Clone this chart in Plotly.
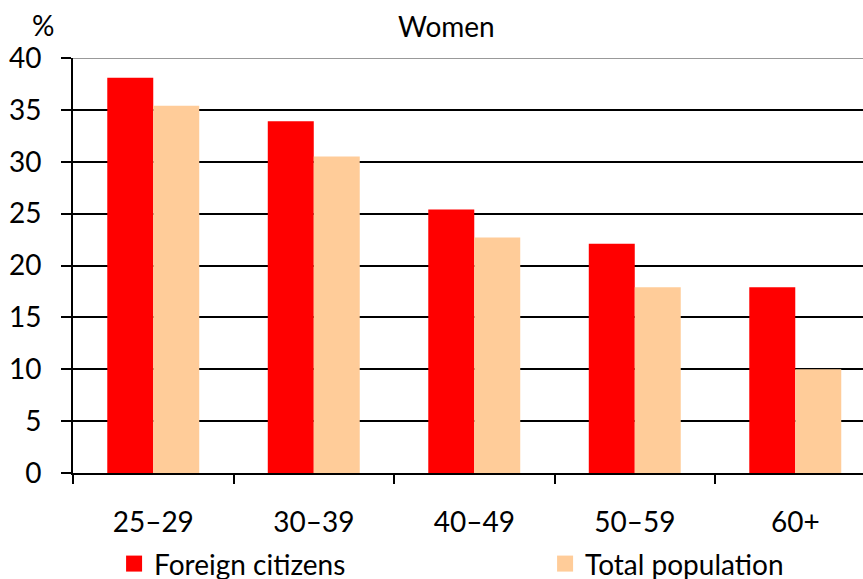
import plotly.graph_objects as go

# Share of women by age group, %
age_groups = ["25–29", "30–39", "40–49", "50–59", "60+"]
foreign_citizens = [38.1, 33.9, 25.4, 22.1, 17.9]
total_population = [35.4, 30.5, 22.7, 17.9, 10.0]
y_ticks = [0, 5, 10, 15, 20, 25, 30, 35, 40]

RED = "#ff0000"
PEACH = "#ffcc99"
FONT = dict(family="Lato", size=28, color="black")

fig = go.Figure()
fig.add_trace(go.Bar(x=age_groups, y=foreign_citizens, name="Foreign citizens",
                     marker=dict(color=RED, line=dict(width=0)), showlegend=False))
fig.add_trace(go.Bar(x=age_groups, y=total_population, name="Total population",
                     marker=dict(color=PEACH, line=dict(width=0)), showlegend=False))

# legend entries with larger square swatches
legend_entries = [("Foreign citizens", RED, 386), ("Total population", PEACH, None)]
for name, color, lw in legend_entries:
    fig.add_trace(go.Scatter(x=[None], y=[None], mode="markers", name=name,
                             legendwidth=lw,
                             marker=dict(symbol="square", size=20, color=color)))

fig.update_layout(
    width=863, height=579,
    margin=dict(l=73, r=0, t=58, b=106, autoexpand=False),
    paper_bgcolor="white", plot_bgcolor="white",
    font=FONT,
    barmode="group", bargap=0.427, bargroupgap=0,
    showlegend=True,
    legend=dict(orientation="h", x=0.052, xanchor="left", y=-0.219, yanchor="middle",
                itemsizing="trace", font=FONT, bgcolor="rgba(0,0,0,0)"),
    annotations=[
        dict(text="%", x=-0.038, y=1.0795, xref="paper", yref="paper",
             showarrow=False, xanchor="center", yanchor="middle", font=FONT),
        dict(text="Women", x=0.4734, y=1.077, xref="paper", yref="paper",
             showarrow=False, xanchor="center", yanchor="middle", font=FONT),
    ],
    shapes=[
        dict(type="line", xref="paper", yref="y", x0=0, x1=1, y0=40, y1=40,
             line=dict(color="#999999", width=2), layer="above"),
    ],
)

fig.update_xaxes(
    type="category", range=[-0.5, 4.422], automargin=False,
    showline=True, linecolor="black", linewidth=2,
    ticks="outside", tickson="boundaries", ticklen=9, tickwidth=2, tickcolor="black",
    ticklabelstandoff=23, showgrid=False, tickfont=FONT,
)
fig.update_yaxes(
    range=[0, 40], tickvals=y_ticks, automargin=False,
    showline=True, linecolor="black", linewidth=2,
    ticks="outside", ticklen=10, tickwidth=2, tickcolor="black",
    showgrid=True, gridcolor="black", gridwidth=2, zeroline=False,
    ticklabelstandoff=14, tickfont=FONT,
)

fig.write_html("out.html")
